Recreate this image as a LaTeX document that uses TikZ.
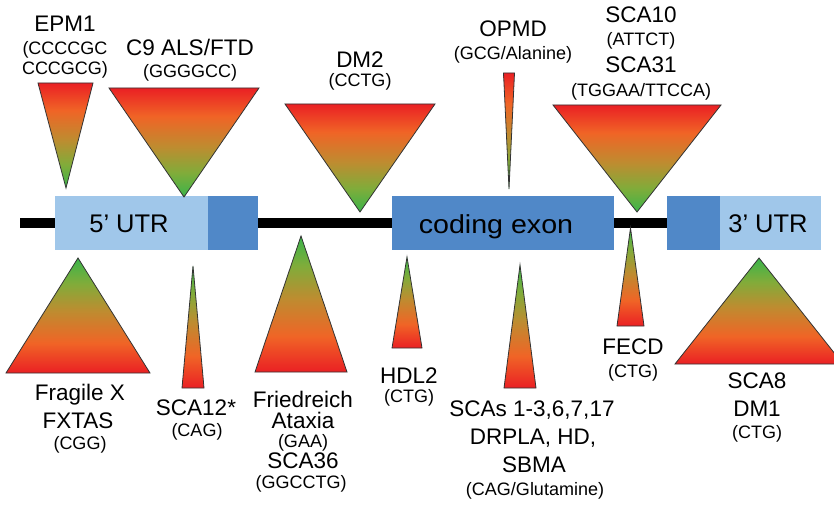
\documentclass[tikz,border=0pt]{standalone}
\usepackage{fontspec}
\setmainfont{Liberation Sans}
\newfontfamily\lblfont{Liberation Sans}
\newfontfamily\exonfont[FakeStretch=1.1]{Liberation Sans}

\definecolor{utrlight}{RGB}{160,199,234}
\definecolor{cdsblue}{RGB}{80,136,200}
\definecolor{tred}{RGB}{234,32,36}
\definecolor{torange}{RGB}{240,100,38}
\definecolor{tolive}{RGB}{190,140,48}
\definecolor{tlime}{RGB}{128,172,58}
\definecolor{tgreen}{RGB}{58,180,74}

% red at the wide end, green at the apex
\pgfdeclareverticalshading{redtop}{100bp}{color(0bp)=(tgreen); color(25bp)=(tgreen); color(36bp)=(tlime); color(48bp)=(tolive); color(62bp)=(torange); color(75bp)=(tred); color(100bp)=(tred)}
\pgfdeclareverticalshading{redbottom}{100bp}{color(0bp)=(tred); color(25bp)=(tred); color(38bp)=(torange); color(52bp)=(tolive); color(64bp)=(tlime); color(75bp)=(tgreen); color(100bp)=(tgreen)}

\tikzset{
  big/.style={font=\lblfont\fontsize{22.5}{26}\selectfont, anchor=base, inner sep=0pt},
  small/.style={font=\lblfont\fontsize{18}{21}\selectfont, anchor=base, inner sep=0pt},
  boxlbl/.style={font=\lblfont\fontsize{25.5}{30}\selectfont, anchor=base, inner sep=0pt},
  down/.style={shading=redtop, draw=black!80, line width=0.8pt, line join=miter},
  up/.style={shading=redbottom, draw=black!80, line width=0.8pt, line join=miter},
}

\begin{document}
\begin{tikzpicture}[x=1pt,y=-1pt]
\useasboundingbox (0,0) rectangle (834,510);
\clip (0,0) rectangle (834,510);

% gene backbone and exons
\fill[black] (20,218.5) rectangle (667,228.5);
\fill[utrlight] (55,196) rectangle (208,250);
\fill[cdsblue] (208,196) rectangle (258,250);
\fill[cdsblue] (392,196) rectangle (614,250);
\fill[cdsblue] (667,196) rectangle (720,250);
\fill[utrlight] (720,196) rectangle (821,250);

\node[boxlbl] (utr5) at (129,233) {5’ UTR};
\node[font=\exonfont\fontsize{26}{30}\selectfont, anchor=base, inner sep=0pt] (cds) at (496,234) {coding exon};
\node[boxlbl] (utr3) at (768,233) {3’ UTR};

% expansions drawn above the gene
\shadedraw[down] (38,83) -- (93,83) -- (66,188) -- cycle;
\shadedraw[down] (109,88) -- (259,88) -- (184,197) -- cycle;
\shadedraw[down] (285,104) -- (435,104) -- (360,212) -- cycle;
\shadedraw[down] (503.5,73) -- (514.5,73) -- (509,189) -- cycle;
\shadedraw[down] (553,105) -- (721,105) -- (637,212) -- cycle;

% expansions drawn below the gene
\shadedraw[up] (6,373) -- (150,373) -- (78,258) -- cycle;
\shadedraw[up] (182,388) -- (204,388) -- (193,266) -- cycle;
\shadedraw[up] (255,372) -- (347,372) -- (301,236) -- cycle;
\shadedraw[up] (392,348) -- (422,348) -- (407,257) -- cycle;
\shadedraw[up] (504,388) -- (536,388) -- (520,265) -- cycle;
\shadedraw[up] (617,326) -- (644,326) -- (630.5,228) -- cycle;
\shadedraw[up] (675,364) -- (843,364) -- (759,258) -- cycle;

% labels above
\node[big] (epm) at (65,32) {EPM1};
\node[small] (epma) at (65,55) {(CCCCGC};
\node[small] (epmb) at (65,75) {CCCGCG)};
\node[big] (c9) at (190,56) {C9 ALS/FTD};
\node[small] (c9a) at (190,78) {(GGGGCC)};
\node[big] (dm2) at (360,68) {DM2};
\node[small] (dm2a) at (360,87) {(CCTG)};
\node[big] (opmd) at (513,37) {OPMD};
\node[small] (opmda) at (513,60) {(GCG/Alanine)};
\node[big] (sca10) at (641,23) {SCA10};
\node[small] (sca10a) at (641,46) {(ATTCT)};
\node[big] (sca31) at (641,73) {SCA31};
\node[small] (sca31a) at (641,97) {(TGGAA/TTCCA)};

% labels below
\node[big] (fx) at (80,400) {Fragile X};
\node[big] (fxt) at (78,428) {FXTAS};
\node[small] (fxa) at (80,449) {(CGG)};
\node[big] (sca12) at (196,415) {SCA12*};
\node[small] (sca12a) at (197,436) {(CAG)};
\node[big] (fa) at (303,407) {Friedreich};
\node[big] (fab) at (303,428) {Ataxia};
\node[small] (faa) at (303,447) {(GAA)};
\node[big] (sca36) at (303,468) {SCA36};
\node[small] (sca36a) at (301,488) {(GGCCTG)};
\node[big] (hdl) at (409,383) {HDL2};
\node[small] (hdla) at (409,402) {(CTG)};
\node[big] (scas) at (532,416) {SCAs 1-3,6,7,17};
\node[big] (drpla) at (533,444) {DRPLA, HD,};
\node[big] (sbma) at (534,472) {SBMA};
\node[small] (scasa) at (535,495) {(CAG/Glutamine)};
\node[big] (fecd) at (633,354) {FECD};
\node[small] (fecda) at (633,377) {(CTG)};
\node[big] (sca8) at (757,388) {SCA8};
\node[big] (dm1) at (757,416) {DM1};
\node[small] (dm1a) at (757,438) {(CTG)};
\end{tikzpicture}
\end{document}
